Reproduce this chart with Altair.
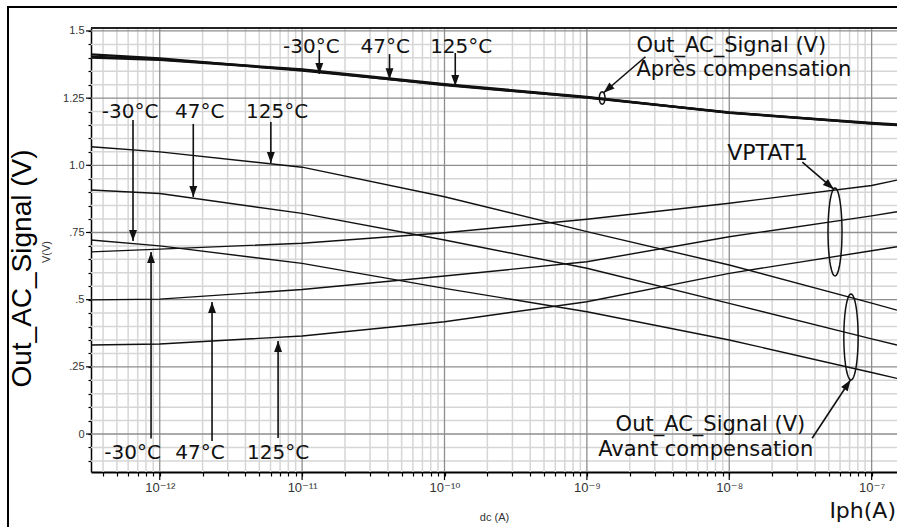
import math
import numpy as np
import pandas as pd
import altair as alt

# ---------------------------------------------------------------------------
# Sweep of the photocurrent Iph (A) and the simulated output voltages (V)
# ---------------------------------------------------------------------------
iph = [3.29e-13, 1e-12, 1e-11, 1e-10, 1e-9, 1e-8, 1e-7, 1.507e-7]

# Out_AC_Signal after compensation (three temperatures, nearly superposed)
apres_m30 = [1.413, 1.398, 1.352, 1.300, 1.252, 1.196, 1.158, 1.152]
apres_47 = [1.405, 1.394, 1.357, 1.302, 1.255, 1.195, 1.156, 1.150]
apres_125 = [1.401, 1.392, 1.355, 1.298, 1.253, 1.197, 1.155, 1.149]

# Out_AC_Signal before compensation
avant_m30 = [0.722, 0.700, 0.635, 0.542, 0.455, 0.350, 0.229, 0.207]
avant_47 = [0.908, 0.895, 0.821, 0.722, 0.617, 0.486, 0.354, 0.331]
avant_125 = [1.069, 1.050, 0.993, 0.883, 0.753, 0.629, 0.487, 0.461]

# VPTAT1
vptat_m30 = [0.678, 0.688, 0.710, 0.749, 0.799, 0.859, 0.925, 0.945]
vptat_47 = [0.499, 0.502, 0.538, 0.588, 0.641, 0.734, 0.812, 0.827]
vptat_125 = [0.331, 0.335, 0.365, 0.418, 0.492, 0.598, 0.682, 0.697]

# Axis ticks
x_decades = [1e-12, 1e-11, 1e-10, 1e-9, 1e-8, 1e-7]
y_major = [0.0, 0.25, 0.5, 0.75, 1.0, 1.25, 1.5]
y_major_text = ["0", ".25", ".5", ".75", "1.0", "1.25", "1.5"]

# Temperature call-outs
temps = ["-30°C", "47°C", "125°C"]
top_text_i = [1.16e-11, 3.83e-11, 1.31e-10]
top_arrow_i = [1.32e-11, 4.11e-11, 1.19e-10]
top_arrow_from = [1.429, 1.414, 1.418]
top_arrow_to = [1.340, 1.320, 1.295]

mid_text_i = [6.19e-13, 1.91e-12, 6.67e-12]
mid_arrow_i = [6.49e-13, 1.72e-12, 6.03e-12]
mid_arrow_from = [1.169, 1.154, 1.161]
mid_arrow_to = [0.718, 0.882, 1.009]

low_text_i = [6.44e-13, 1.92e-12, 6.78e-12]
low_arrow_i = [8.69e-13, 2.33e-12, 6.78e-12]
low_arrow_from = [-0.017, -0.026, -0.015]
low_arrow_to = [0.677, 0.491, 0.346]

# ---------------------------------------------------------------------------
W, H = 806, 444
X_DOM = [3.29e-13, 1.507e-7]
Y_DOM = [-0.1414, 1.511]
INK = "#111111"

xs = alt.Scale(type="log", domain=X_DOM, nice=False)
ys = alt.Scale(domain=Y_DOM, nice=False, zero=False)

PX_PER_DEC = W / (math.log10(X_DOM[1]) - math.log10(X_DOM[0]))
PX_PER_V = H / (Y_DOM[1] - Y_DOM[0])

# ------------------------------------------------------------------ axes ---
SUP = str.maketrans("-0123456789", "⁻⁰¹²³⁴⁵⁶⁷⁸⁹")
lg = "log(datum.value)/LN10"
x_label_expr = "".join(
    f"abs({lg} - ({int(round(math.log10(d)))})) < 0.01 ? '10{str(int(round(math.log10(d)))).translate(SUP)}' : "
    for d in x_decades) + "''"
y_label_expr = "".join(
    f"abs(datum.value - {v}) < 0.001 ? '{t}' : " for v, t in zip(y_major, y_major_text)) + "''"

x_minor = [k * 10.0 ** n for n in range(-13, -6) for k in range(2, 10)
           if X_DOM[0] <= k * 10.0 ** n <= X_DOM[1]]
y_all = [round(-0.10 + 0.05 * i, 2) for i in range(33)]
y_minor = [v for v in y_all if v not in y_major]

x_axis = alt.Axis(
    values=sorted(x_decades + x_minor), labelExpr=x_label_expr, grid=False,
    ticks=True, tickSize=4, tickColor="black", tickWidth=1.2,
    domainColor="black", domainWidth=2,
    labelFont="Liberation Sans, DejaVu Sans", labelFontSize=13, labelColor="#333333",
    labelPadding=5, labelOverlap=False, labelFlush=False,
    title="dc (A)", titleFont="Liberation Sans", titleFontSize=11, titleFontWeight="normal",
    titleColor="#333333", titleBaseline="alphabetic", titleY=48,
)
y_axis = alt.Axis(
    values=y_all, labelExpr=y_label_expr, grid=False,
    ticks=True, tickSize=3, tickColor="black", tickWidth=1.2,
    domainColor="black", domainWidth=1.5,
    labelFont="Liberation Sans", labelFontSize=11, labelColor="#333333", labelPadding=4,
    labelOverlap=False, labelFlush=False,
    title="Out_AC_Signal (V)", titleFont="Liberation Sans", titleFontSize=28,
    titleFontWeight="normal", titleColor="black", titleBaseline="alphabetic",
    titleX=-61, titleY=240, titleAlign="center",
)


def X(field="x"):
    return alt.X(f"{field}:Q", scale=xs, axis=x_axis)


def Y(field="y"):
    return alt.Y(f"{field}:Q", scale=ys, axis=y_axis)


# ------------------------------------------------------------------ grid ---
grid_minor_x = alt.Chart(pd.DataFrame({"x": x_minor})).mark_rule(
    color="#d6d6d6", strokeWidth=1.5).encode(x=X())
grid_minor_y = alt.Chart(pd.DataFrame({"y": y_minor})).mark_rule(
    color="#d6d6d6", strokeWidth=1.5).encode(y=Y())
grid_major_x = alt.Chart(pd.DataFrame({"x": x_decades})).mark_rule(
    color="#8e8e8e", strokeWidth=1.3).encode(x=X())
grid_major_y = alt.Chart(pd.DataFrame({"y": y_major})).mark_rule(
    color="#8e8e8e", strokeWidth=1.3).encode(y=Y())

# longer ticks at the decades and at every 0.25 V
major_ticks_x = alt.Chart(pd.DataFrame({"x": x_decades})).mark_rule(
    color="black", strokeWidth=1.2).encode(x=X(), y=alt.value(H), y2=alt.value(H + 8))
major_ticks_y = alt.Chart(pd.DataFrame({"y": y_major})).mark_rule(
    color="black", strokeWidth=1.2).encode(y=Y(), x=alt.value(-5), x2=alt.value(0))

# ---------------------------------------------------------------- curves ---
rows = []
for fam, label, vals in [
    ("apres", "-30", apres_m30), ("apres", "47", apres_47), ("apres", "125", apres_125),
    ("avant", "-30", avant_m30), ("avant", "47", avant_47), ("avant", "125", avant_125),
    ("vptat", "-30", vptat_m30), ("vptat", "47", vptat_47), ("vptat", "125", vptat_125),
]:
    for i, v in zip(iph, vals):
        rows.append({"x": i, "y": v, "curve": f"{fam} {label}", "fam": fam})
curves = pd.DataFrame(rows)

lines_thin = alt.Chart(curves[curves.fam != "apres"]).mark_line(
    color=INK, strokeWidth=1.4).encode(x=X(), y=Y(), detail="curve:N")
lines_thick = alt.Chart(curves[curves.fam == "apres"]).mark_line(
    color=INK, strokeWidth=2.2).encode(x=X(), y=Y(), detail="curve:N")

# --------------------------------------------------------------- arrows ----
arrows = []
for xi, y0, y1 in zip(top_arrow_i + mid_arrow_i + low_arrow_i,
                      top_arrow_from + mid_arrow_from + low_arrow_from,
                      top_arrow_to + mid_arrow_to + low_arrow_to):
    arrows.append({"x": xi, "x2": xi, "y": y0, "y2": y1})
# diagonal pointers from the captions to the ellipses
for x0, y0, x1, y1 in [(2.58e-9, 1.404, 1.31e-9, 1.270),
                       (3.26e-8, 1.012, 5.42e-8, 0.911),
                       (3.82e-8, -0.016, 7.10e-8, 0.201)]:
    arrows.append({"x": x0, "x2": x1, "y": y0, "y2": y1})
arrows = pd.DataFrame(arrows)


def head_angle(r):
    dx = (math.log10(r.x2) - math.log10(r.x)) * PX_PER_DEC
    dy = -(r.y2 - r.y) * PX_PER_V
    return math.degrees(math.atan2(dx, -dy)) % 360


arrows["angle"] = arrows.apply(head_angle, axis=1)

shafts = alt.Chart(arrows).mark_rule(color=INK, strokeWidth=1.6).encode(
    x=X(), x2="x2:Q", y=Y(), y2="y2:Q")
heads = alt.Chart(arrows).mark_point(
    shape="M0,0L-0.36,1L0.36,1Z", size=484, filled=True, color=INK, opacity=1,
    strokeWidth=0).encode(x=X("x2"), y=Y("y2"), angle=alt.Angle("angle:Q", scale=None))

# ------------------------------------------------------------- ellipses ----
def ellipse_path(ratio, n=60):
    pts = [(ratio * math.sin(t), -math.cos(t)) for t in np.linspace(0, 2 * np.pi, n, endpoint=False)]
    return "M" + "L".join(f"{a:.4f},{b:.4f}" for a, b in pts) + "Z"


ellipses = []
for xi, yv, w_px, h_px in [(1.28e-9, 1.2505, 5.7, 12.3),
                           (5.53e-8, 0.752, 14.0, 88.0),
                           (7.16e-8, 0.361, 14.3, 86.0)]:
    ellipses.append(
        alt.Chart(pd.DataFrame({"x": [xi], "y": [yv]})).mark_point(
            shape=ellipse_path(w_px / h_px), size=h_px ** 2, filled=False,
            color=INK, strokeWidth=1.5, opacity=1).encode(x=X(), y=Y()))

# ---------------------------------------------------------------- texts ----
temp_txt = pd.DataFrame({
    "x": top_text_i + mid_text_i + low_text_i,
    "y": [1.419] * 3 + [1.175] * 3 + [-0.094] * 3,
    "t": temps * 3,
})
temp_layer = alt.Chart(temp_txt).mark_text(
    font="DejaVu Sans", fontSize=20, color=INK, align="center", baseline="alphabetic").encode(
    x=X(), y=Y(), text="t:N")

caption_left = alt.Chart(pd.DataFrame({
    "x": [2.23e-9, 2.23e-9], "y": [1.422, 1.332],
    "t": ["Out_AC_Signal (V)", "Après compensation"]})).mark_text(
    font="DejaVu Sans", fontSize=21, color=INK, align="left", baseline="alphabetic").encode(
    x=X(), y=Y(), text="t:N")
caption_right = alt.Chart(pd.DataFrame({
    "x": [3.42e-8, 3.89e-8], "y": [0.012, -0.082],
    "t": ["Out_AC_Signal (V)", "Avant compensation"]})).mark_text(
    font="DejaVu Sans", fontSize=21, color=INK, align="right", baseline="alphabetic").encode(
    x=X(), y=Y(), text="t:N")
vptat_label = alt.Chart(pd.DataFrame({"x": [1.86e-8], "y": [1.020], "t": ["VPTAT1"]})).mark_text(
    font="DejaVu Sans", fontSize=22, color=INK, align="center", baseline="alphabetic").encode(
    x=X(), y=Y(), text="t:N")

unit_label = alt.Chart(pd.DataFrame({"t": ["V(V)"]})).mark_text(
    font="Liberation Sans", fontSize=11, color="#333333", angle=270, align="center",
    baseline="alphabetic").encode(x=alt.value(-41), y=alt.value(224), text="t:N")
iph_label = alt.Chart(pd.DataFrame({"t": ["Iph(A)"]})).mark_text(
    font="DejaVu Sans", fontSize=22, color=INK, align="right", baseline="alphabetic").encode(
    x=alt.value(W - 1), y=alt.value(H + 46), text="t:N")

# --------------------------------------------------------------- frames ----
plot_top = alt.Chart(pd.DataFrame({"k": [0]})).mark_rule(color="#222222", strokeWidth=2).encode(
    x=alt.value(0), x2=alt.value(W), y=alt.value(0))
outer_left = alt.Chart(pd.DataFrame({"k": [0]})).mark_rule(color="black", strokeWidth=2).encode(
    x=alt.value(-83), y=alt.value(-21), y2=alt.value(H + 70))
outer_top = alt.Chart(pd.DataFrame({"k": [0]})).mark_rule(color="black", strokeWidth=2).encode(
    x=alt.value(-84), x2=alt.value(W + 10), y=alt.value(-21))

chart = alt.layer(
    grid_minor_x, grid_minor_y, grid_major_x, grid_major_y, major_ticks_x, major_ticks_y,
    lines_thin, lines_thick, shafts, heads, *ellipses,
    temp_layer, caption_left, caption_right, vptat_label, unit_label, iph_label,
    plot_top, outer_left, outer_top,
).properties(
    width=W, height=H,
    autosize=alt.AutoSizeParams(type="none"),
    padding={"left": 91, "top": 28, "right": 0, "bottom": 55},
    background="white",
).configure_view(stroke=None)

chart.save("out.html", embed_options={"renderer": "svg", "actions": False})
